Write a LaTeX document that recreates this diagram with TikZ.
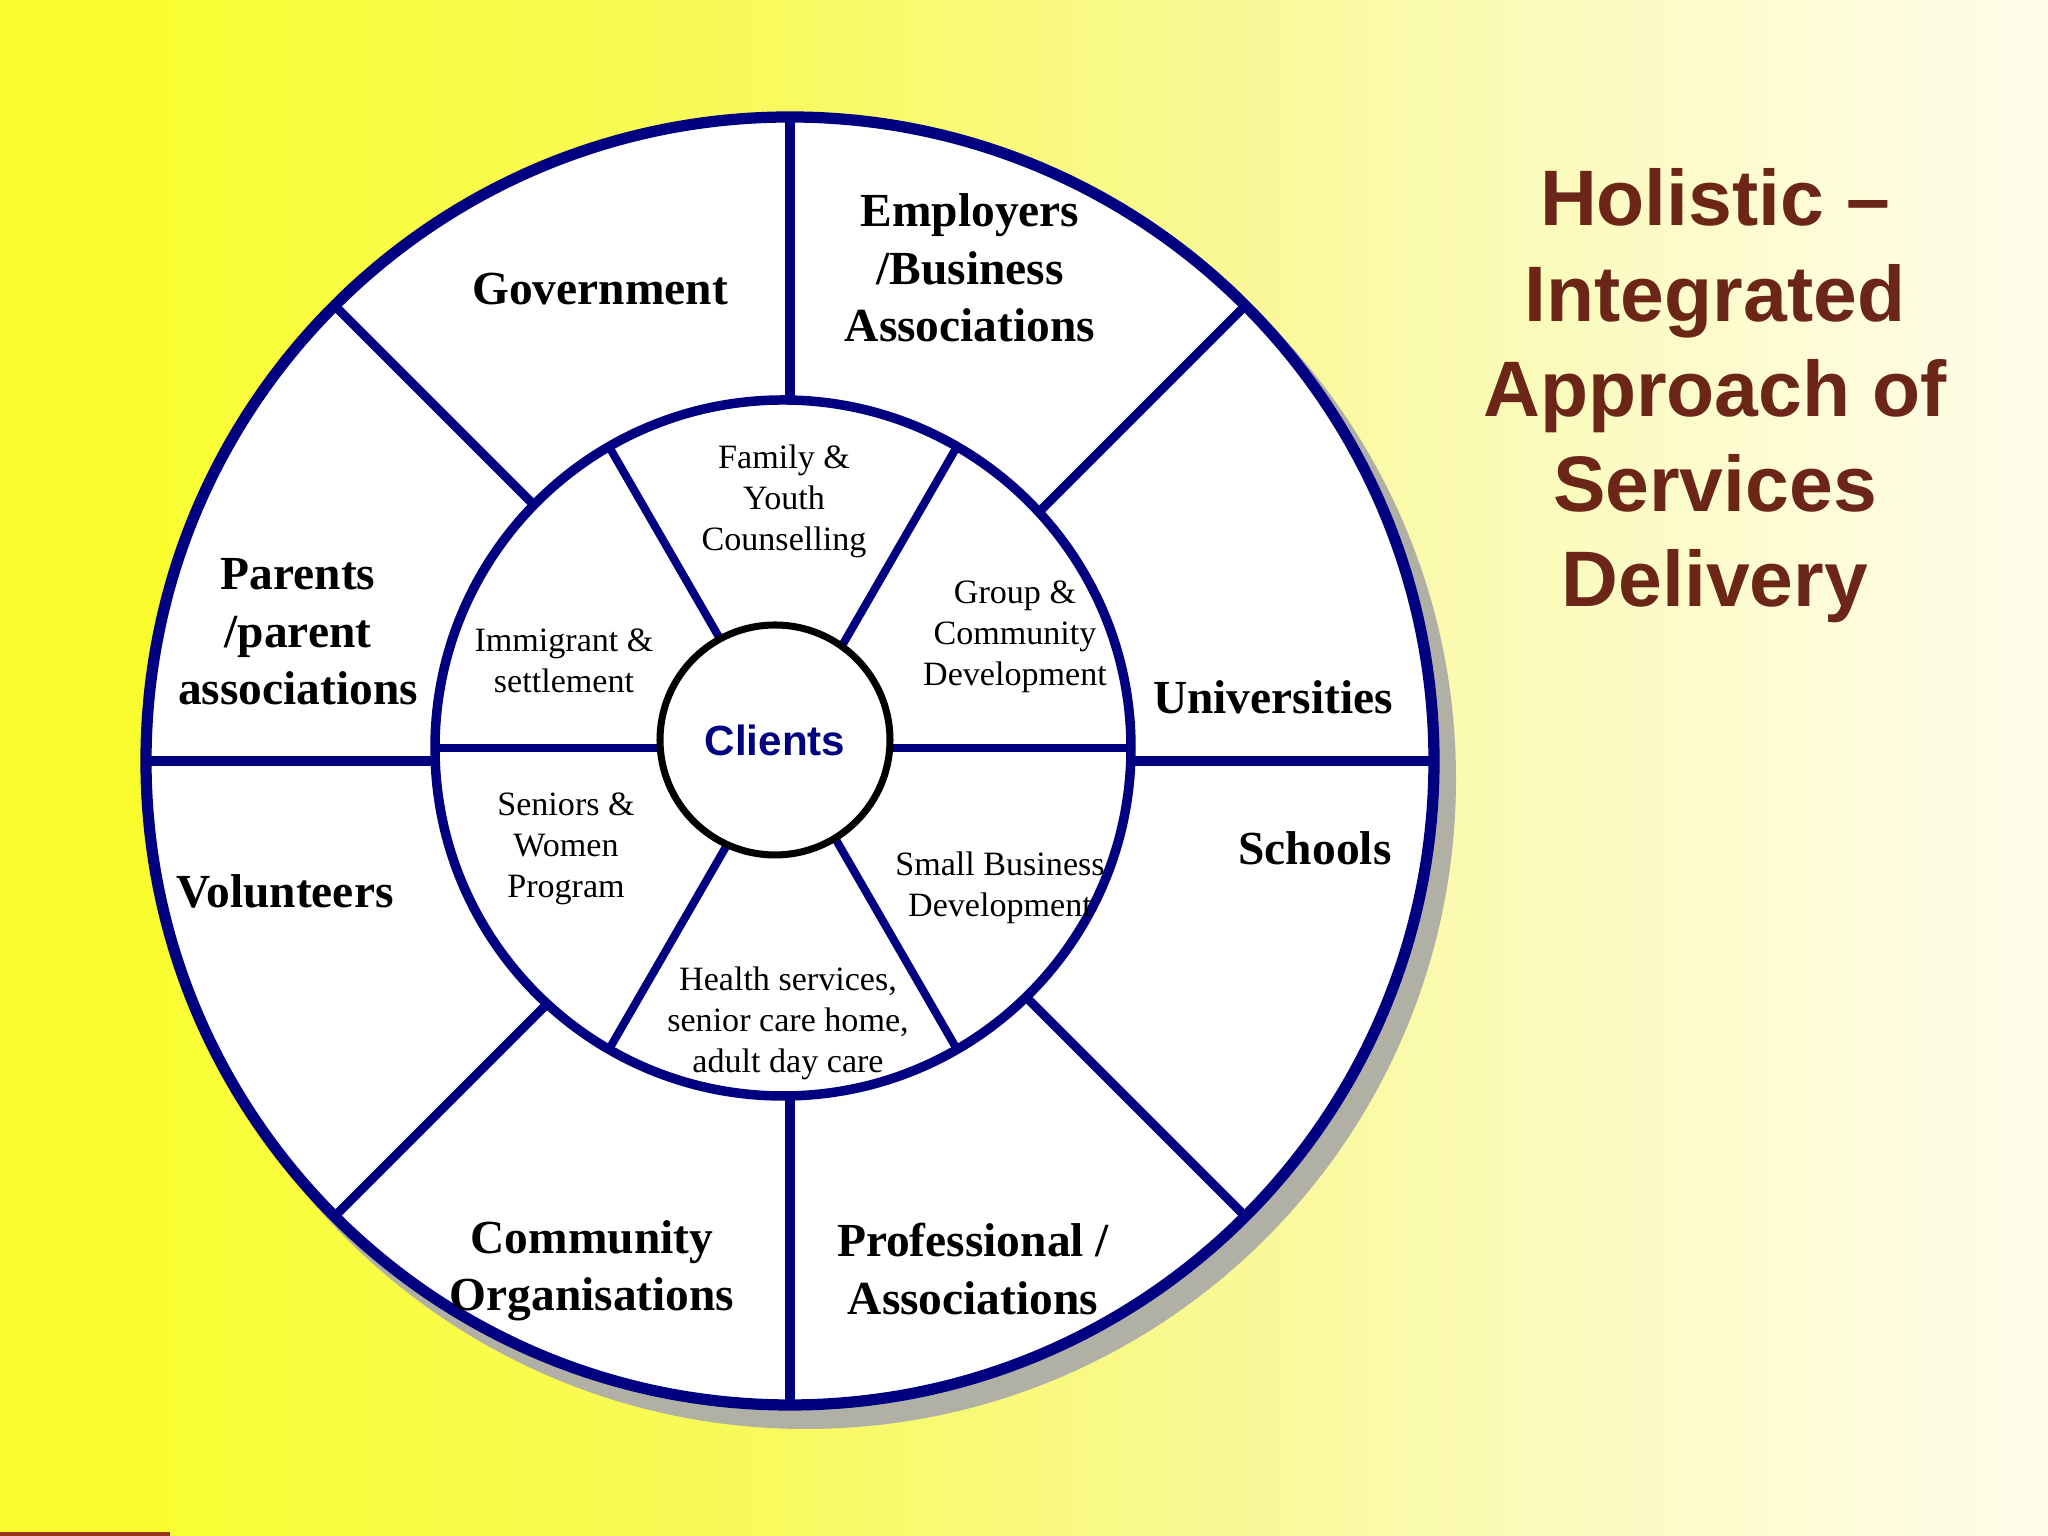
\documentclass[tikz,border=0pt]{standalone}
\usepackage{fontspec}
\setmainfont{Liberation Serif}
\newfontfamily\titlefont{Liberation Sans}
\usepackage{tikz}

\definecolor{ringblue}{RGB}{0,0,128}
\definecolor{titlebrown}{RGB}{107,38,24}
\definecolor{shadowgrey}{RGB}{176,176,164}
\definecolor{barred}{RGB}{150,52,30}
\definecolor{bgA}{RGB}{248,252,45}
\definecolor{bgB}{RGB}{250,254,52}
\definecolor{bgC}{RGB}{248,250,90}
\definecolor{bgD}{RGB}{249,249,150}
\definecolor{bgE}{RGB}{252,251,198}
\definecolor{bgF}{RGB}{255,253,235}
\pgfdeclarehorizontalshading{slidebg}{100bp}{color(0bp)=(bgA); color(29bp)=(bgA); color(29.2bp)=(bgB); color(43bp)=(bgC); color(55bp)=(bgD); color(65bp)=(bgE); color(75bp)=(bgF); color(100bp)=(bgF)}

\begin{document}
\begin{tikzpicture}[ring/.style={circle, draw=ringblue, fill=white, inner sep=0, outer sep=0}, spoke/.style={ringblue, line width=2.6pt}, outerlabel/.style={font=\fontsize{13.5}{16.3}\selectfont\bfseries, align=center}, innerlabel/.style={font=\fontsize{9.7}{11.7}\selectfont, align=center}]
    \useasboundingbox (0,0) rectangle (20.48,15.36);
    \shade [shading=slidebg] (0,0) rectangle (20.48,15.36);
    \fill [barred] (0,0) rectangle (1.70,0.04);
    \node [circle, fill=shadowgrey, inner sep=0, minimum size=13.0cm] (S) at (8.06,7.57) {};
    \node [ring, line width=3.2pt, minimum size=12.88cm] (O) at (7.90,7.75) {};
    \foreach \a in {0,45,...,315} {\draw [spoke] (O.center) -- (O.\a);};
    \node [ring, line width=2.7pt, minimum size=6.96cm] (I) at (7.83,7.88) {};
    \foreach \a in {0,60,...,300} {\draw [spoke, line width=2.3pt] (I.center) -- (I.\a);};
    \node [ring, draw=black, line width=2pt, minimum size=2.30cm, text=ringblue, font=\fontsize{12}{14}\selectfont\titlefont\bfseries] (C) at (7.75,7.96) {Clients};
    \node [outerlabel] (gov) at (6.00,12.47) {Government};
    \node [outerlabel] (emp) at (9.70,12.68) {Employers\\/Business\\Associations};
    \node [outerlabel] (par) at (2.98,9.04) {Parents\\/parent\\associations};
    \node [outerlabel] (uni) at (12.73,8.39) {Universities};
    \node [outerlabel] (sch) at (13.15,6.88) {Schools};
    \node [outerlabel] (vol) at (2.85,6.45) {Volunteers};
    \node [outerlabel] (com) at (5.92,2.65) {Community\\Organisations};
    \node [outerlabel] (pro) at (9.73,2.67) {Professional /\\Associations};
    \node [innerlabel] (fam) at (7.84,10.35) {Family \&\\Youth\\Counselling};
    \node [innerlabel] (grp) at (10.15,8.99) {Group \&\\Community\\Development};
    \node [innerlabel] (imm) at (5.64,8.75) {Immigrant \&\\settlement};
    \node [innerlabel] (sen) at (5.66,6.87) {Seniors \&\\Women\\Program};
    \node [innerlabel] (smb) at (10.00,6.48) {Small Business\\Development};
    \node [innerlabel] (hea) at (7.88,5.13) {Health services,\\senior care home,\\adult day care};
    \node [font=\fontsize{22.4}{27.1}\selectfont\titlefont\bfseries, text=titlebrown, align=center] (title) at (17.15,11.40) {Holistic –\\Integrated\\Approach of\\Services\\Delivery};
\end{tikzpicture}
\end{document}
